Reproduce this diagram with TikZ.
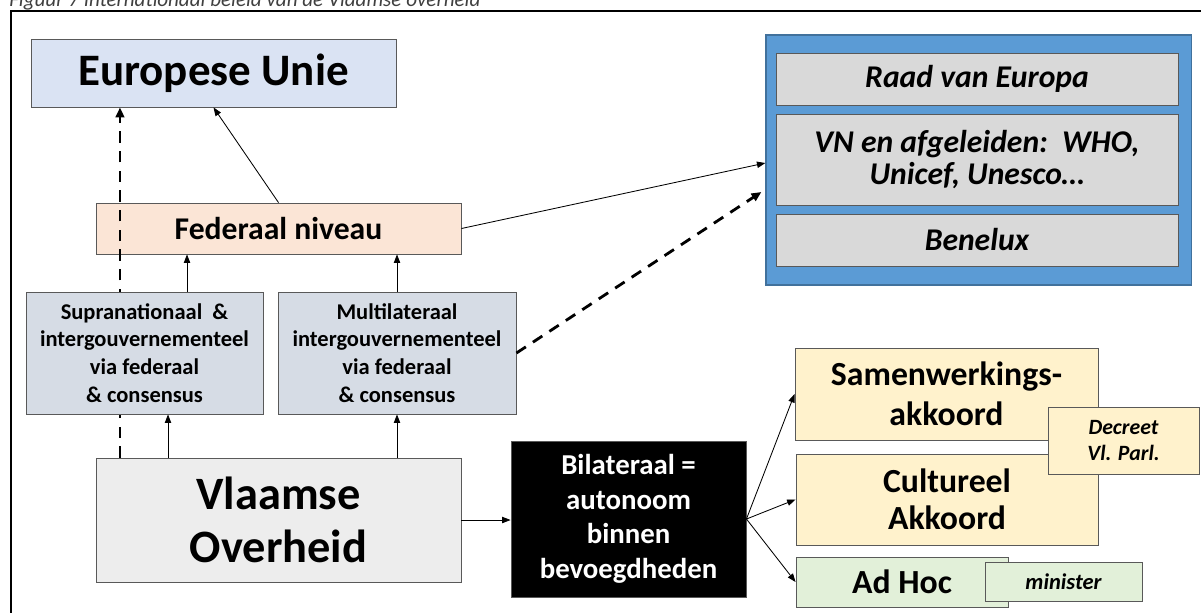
\documentclass[tikz,border=0pt]{standalone}
\usepackage{fontspec}
\setmainfont{Carlito}
\usetikzlibrary{arrows.meta}

\definecolor{eublue}{HTML}{DAE3F3}
\definecolor{fedpeach}{HTML}{FBE5D6}
\definecolor{viagrey}{HTML}{D6DCE5}
\definecolor{vlgrey}{HTML}{EDEDED}
\definecolor{intlblue}{HTML}{5B9BD5}
\definecolor{intlborder}{HTML}{41719C}
\definecolor{orggrey}{HTML}{D9D9D9}
\definecolor{akkyellow}{HTML}{FFF2CC}
\definecolor{adhocgreen}{HTML}{E2F0D9}
\definecolor{captiongrey}{HTML}{404040}

\begin{document}
\begin{tikzpicture}[x=0.025cm, y=-0.025cm,
    box/.style={draw=black!65, line width=0.6pt, inner sep=0pt, align=center},
    arr/.style={-{Triangle[length=6pt,width=4.5pt]}, line width=0.6pt},
    dasharr/.style={-{Triangle[length=7pt,width=6pt]}, line width=2pt, dash pattern=on 8pt off 6pt}]
      % \draw[help lines] (0,0) grid (1201,613);

      % Bounding box
      \path (0,0) rectangle (1201,613);
      \clip (0,0) rectangle (1201,613);

      \draw (9,6.5) node (caption)[anchor=base west, inner sep=0pt, text=captiongrey, font=\itshape\fontsize{15}{18}\selectfont] {Figuur 7 Internationaal beleid van de Vlaamse overheid};
      \draw[line width=1.5pt] (1201,11) -- (11,11) -- (11,613);

      \draw (213.5,73) node (eu)[box, fill=eublue, minimum width=9.125cm, minimum height=1.7cm, font=\bfseries\fontsize{32}{38}\selectfont] {Europese Unie};
      \draw (278.5,228.5) node (federaal)[box, fill=fedpeach, minimum width=9.125cm, minimum height=1.275cm, font=\bfseries\fontsize{22.5}{27}\selectfont] {Federaal niveau};
      \draw (278.5,520) node (vlaams)[box, fill=vlgrey, minimum width=9.125cm, minimum height=3.1cm, font=\bfseries\fontsize{33}{37.7}\selectfont] {Vlaamse\\Overheid};

      % dashed line runs over federaal, under supra
      \coordinate (euin) at ([xshift=-2.3375cm]eu.south);
      \draw [dasharr] (euin |- vlaams.north) -- (euin);

      \draw (144.5,353) node (supra)[box, fill=viagrey, minimum width=5.925cm, minimum height=3.05cm, font=\bfseries\fontsize{16}{19.7}\selectfont] {Supranationaal \ \&\\intergouvernementeel\\via federaal\\\& consensus};
      \draw (397,353) node (multi)[box, fill=viagrey, minimum width=5.95cm, minimum height=3.05cm, font=\bfseries\fontsize{16}{19.7}\selectfont] {Multilateraal\\intergouvernementeel\\via federaal\\\& consensus};

      \draw (628.5,519) node (bilat)[box, fill=black, text=white, minimum width=5.875cm, minimum height=3.9cm, font=\bfseries\fontsize{20.5}{24.6}\selectfont] {Bilateraal =\\autonoom\\binnen\\bevoegdheden};

      \draw (978.5,160) node (intl)[box, draw=intlborder, fill=intlblue, line width=0.8pt, minimum width=10.625cm, minimum height=6.25cm] {};
      \draw (977,79) node (raad)[box, fill=orggrey, minimum width=10.05cm, minimum height=1.3cm, font=\bfseries\itshape\fontsize{22.5}{22.5}\selectfont] {Raad van Europa};
      \draw (977,159.5) node (vn)[box, fill=orggrey, minimum width=10.05cm, minimum height=2.275cm, font=\bfseries\itshape\fontsize{22.5}{22.5}\selectfont] {VN en afgeleiden:\ \ WHO,\\Unicef, Unesco…};
      \draw (977,240) node (benelux)[box, fill=orggrey, minimum width=10.05cm, minimum height=1.3cm, font=\bfseries\itshape\fontsize{22.5}{22.5}\selectfont] {Benelux};

      \draw (946.5,394) node (samen)[box, fill=akkyellow, minimum width=7.575cm, minimum height=2.3cm, font=\bfseries\fontsize{24}{28.5}\selectfont] {Samenwerkings-\\akkoord};
      \draw (947,499.5) node (cultuur)[box, fill=akkyellow, minimum width=7.55cm, minimum height=2.275cm, font=\bfseries\fontsize{24}{26.5}\selectfont] {Cultureel\\Akkoord};
      \draw (1123.5,440.5) node (decreet)[box, fill=akkyellow, minimum width=3.775cm, minimum height=1.675cm, font=\bfseries\itshape\fontsize{15.5}{18}\selectfont] {Decreet\\Vl. Parl.};
      \draw (902,582) node (adhoc)[box, fill=adhocgreen, minimum width=5.3cm, minimum height=1.25cm, font=\bfseries\fontsize{24}{28}\selectfont] {Ad Hoc};
      \draw (1063.5,581.5) node (minister)[box, fill=adhocgreen, minimum width=3.925cm, minimum height=0.975cm, font=\bfseries\itshape\fontsize{16}{18}\selectfont] {minister};

      \coordinate (supraup) at ([xshift=1.0625cm]supra.north);
      \coordinate (suprain) at ([xshift=0.5875cm]supra.south);

      \draw [arr] (federaal.north) -- (eu.south);
      \draw [arr] (supraup) -- (supraup |- federaal.south);
      \draw [arr] (multi.north) -- (multi.north |- federaal.south);
      \draw [arr] (suprain |- vlaams.north) -- (suprain);
      \draw [arr] (multi.south |- vlaams.north) -- (multi.south);
      \draw [arr] (federaal.east) -- ([yshift=-0.075cm]intl.west);
      \draw [dasharr] (multi.east) -- ([yshift=-0.8cm,xshift=-0.1cm]intl.west);
      \draw [arr] (vlaams.east) -- (vlaams.east -| bilat.west);
      \draw [arr] (bilat.east) -- (samen.west);
      \draw [arr] (bilat.east) -- (cultuur.west);
      \draw [arr] (bilat.east) -- (adhoc.west);
    \end{tikzpicture}
\end{document}
